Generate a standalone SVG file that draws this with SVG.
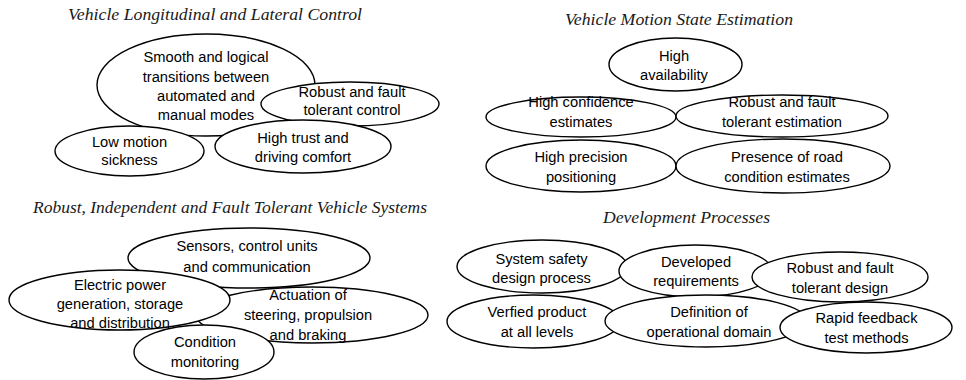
<svg xmlns="http://www.w3.org/2000/svg" width="966" height="380" viewBox="0 0 966 380">
<style>
.title{font-family:"Liberation Serif","Times New Roman",serif;font-style:italic;font-size:16px;fill:#1a1a1a}
.node ellipse{fill:#fff;stroke:#000;stroke-width:1.4}
.node text{font-family:"Liberation Sans",Arial,sans-serif;font-size:14.7px;fill:#000;text-anchor:middle}
</style>
<rect width="966" height="380" fill="#fff"/>
<g id="titles">
<text class="title" x="68" y="20" textLength="294" lengthAdjust="spacingAndGlyphs">Vehicle Longitudinal and Lateral Control</text>
<text class="title" x="565" y="25" textLength="228" lengthAdjust="spacingAndGlyphs">Vehicle Motion State Estimation</text>
<text class="title" x="33" y="213" textLength="394" lengthAdjust="spacingAndGlyphs">Robust, Independent and Fault Tolerant Vehicle Systems</text>
<text class="title" x="603" y="223" textLength="167" lengthAdjust="spacingAndGlyphs">Development Processes</text>
</g>
<g id="connectors"></g>
<!-- Top-left -->
<g id="smooth" class="node"><ellipse cx="206" cy="85" rx="109" ry="51"/>
<text x="206" y="62">Smooth and logical</text><text x="206" y="82">transitions between</text><text x="206" y="101">automated and</text><text x="206" y="120">manual modes</text></g>
<g id="robust-control" class="node"><ellipse cx="350" cy="104" rx="89" ry="22"/>
<text x="352" y="97">Robust and fault</text><text x="352" y="115">tolerant control</text></g>
<g id="low-motion" class="node"><ellipse cx="129.5" cy="151" rx="74.5" ry="25"/>
<text x="129.5" y="147">Low motion</text><text x="129.5" y="165">sickness</text></g>
<g id="high-trust" class="node"><ellipse cx="303" cy="146.5" rx="88" ry="26.5"/>
<text x="303" y="143">High trust and</text><text x="303" y="162">driving comfort</text></g>
<!-- Top-right -->
<g id="high-availability" class="node"><ellipse cx="675.5" cy="64.5" rx="66.5" ry="26.5"/>
<text x="674" y="61">High</text><text x="674" y="80">availability</text></g>
<g id="high-confidence" class="node"><ellipse cx="581" cy="117" rx="95" ry="20"/>
<text x="581" y="107">High confidence</text><text x="581" y="127">estimates</text></g>
<g id="robust-estimation" class="node"><ellipse cx="782" cy="116" rx="106" ry="21"/>
<text x="782" y="107">Robust and fault</text><text x="782" y="127">tolerant estimation</text></g>
<g id="high-precision" class="node"><ellipse cx="581" cy="166" rx="95" ry="26"/>
<text x="581" y="162">High precision</text><text x="581" y="182">positioning</text></g>
<g id="road-condition" class="node"><ellipse cx="783" cy="166" rx="107" ry="27"/>
<text x="787" y="162">Presence of road</text><text x="787" y="182">condition estimates</text></g>
<!-- Bottom-left -->
<g id="sensors" class="node"><ellipse cx="249" cy="258" rx="121" ry="30"/>
<text x="247" y="251">Sensors, control units</text><text x="247" y="272">and communication</text></g>
<g id="actuation" class="node"><ellipse cx="312" cy="315" rx="116" ry="28"/>
<text x="308" y="300">Actuation of</text><text x="308" y="320">steering, propulsion</text><text x="308" y="340">and braking</text></g>
<g id="electric-power" class="node"><ellipse cx="119.5" cy="300" rx="110.5" ry="30"/>
<text x="120" y="290">Electric power</text><text x="120" y="309">generation, storage</text><text x="120" y="328">and distribution</text></g>
<g id="condition-monitoring" class="node"><ellipse cx="204" cy="352" rx="70" ry="27"/>
<text x="205" y="347">Condition</text><text x="205" y="367">monitoring</text></g>
<!-- Bottom-right -->
<g id="system-safety" class="node"><ellipse cx="542" cy="266.5" rx="85" ry="26.5"/>
<text x="541.5" y="264">System safety</text><text x="541.5" y="283">design process</text></g>
<g id="developed-requirements" class="node"><ellipse cx="695.5" cy="271" rx="76.5" ry="26"/>
<text x="696" y="267">Developed</text><text x="696" y="286">requirements</text></g>
<g id="robust-design" class="node"><ellipse cx="840" cy="277" rx="88" ry="25"/>
<text x="840" y="273">Robust and fault</text><text x="840" y="293">tolerant design</text></g>
<g id="verified-product" class="node"><ellipse cx="533.5" cy="321.5" rx="86.5" ry="26.5"/>
<text x="537" y="317">Verfied product</text><text x="537" y="337">at all levels</text></g>
<g id="operational-domain" class="node"><ellipse cx="706" cy="321" rx="101" ry="26"/>
<text x="709" y="317">Definition of</text><text x="709" y="337">operational domain</text></g>
<g id="rapid-feedback" class="node"><ellipse cx="866" cy="327.5" rx="86" ry="25.5"/>
<text x="866.5" y="323">Rapid feedback</text><text x="866.5" y="343">test methods</text></g>
</svg>
